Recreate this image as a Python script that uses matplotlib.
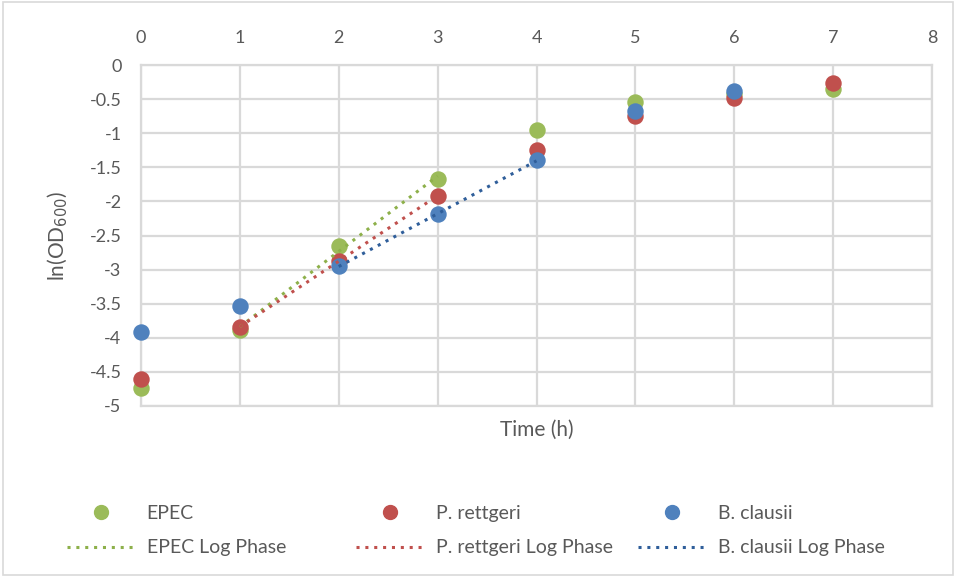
import numpy as np
import matplotlib.pyplot as plt
from matplotlib.lines import Line2D
from matplotlib.patches import Rectangle

plt.rcParams['font.family'] = ['Lato', 'DejaVu Sans']

# Data
time_h = [0, 1, 2, 3, 4, 5, 6, 7]
epec = [-4.73, -3.88, -2.65, -1.67, -0.95, -0.54, -0.42, -0.35]
rettgeri = [-4.61, -3.84, -2.87, -1.92, -1.25, -0.75, -0.48, -0.27]
clausii = [-3.92, -3.54, -2.95, -2.19, -1.40, -0.67, -0.38]

# log phase windows (index ranges used for the trend lines)
epec_log = (1, 3)
rettgeri_log = (1, 3)
clausii_log = (2, 4)

GREEN = "#9BBB59"
RED = "#C0504D"
BLUE = "#4F81BD"
TXT = "#595959"
GRID = "#D9D9D9"

fig = plt.figure(figsize=(9.56, 5.77), dpi=100)
ax = fig.add_axes([141 / 956, 1 - 406 / 577, (932 - 141) / 956, (406 - 65) / 577])

series = [("EPEC", epec, epec_log, GREEN, "#8DB04A"),
          ("P. rettgeri", rettgeri, rettgeri_log, RED, "#C0504D"),
          ("B. clausii", clausii, clausii_log, BLUE, "#2F5E9A")]

dots = (0, (1, 1.9))
legend_x = [67, 356, 638]
for (name, vals, (a, b), col, tcol), lx in zip(series, legend_x):
  x = np.array(time_h[:len(vals)])
  y = np.array(vals)
  ax.scatter(x, y, s=140, color=col, zorder=3, linewidths=0, clip_on=False)
  # linear trend over the log phase
  m, c = np.polyfit(x[a:b + 1], y[a:b + 1], 1)
  xs = np.array([x[a], x[b]])
  ax.plot(xs, m * xs + c, color=tcol, linestyle=dots, lw=2.2, zorder=4)
  hs = [Line2D([], [], marker="o", linestyle="none", color=col,
               markersize=10, label=name),
        Line2D([], [], linestyle=dots, lw=2.2, color=tcol,
               label=f"{name} Log Phase")]
  fig.legend(handles=hs, loc="upper left", frameon=False,
             bbox_to_anchor=(lx / 956, 1 - 505 / 577), borderpad=0,
             borderaxespad=0, fontsize=14, labelcolor=TXT, handlelength=3.5,
             handletextpad=0.6, labelspacing=0.9)

ax.set_xlim(0, 8)
ax.set_ylim(-5, 0)
ax.set_xticks(range(0, 9))
ax.set_yticks(np.arange(-5, 0.1, 0.5))
ax.set_yticklabels([f"{v:g}" for v in np.arange(-5, 0.1, 0.5)])
ax.xaxis.tick_top()
ax.tick_params(length=0, colors=TXT, labelsize=13)
ax.tick_params(axis="x", pad=14)
ax.tick_params(axis="y", pad=14)
ax.grid(True, color=GRID, lw=1.6)
ax.set_axisbelow(True)
for sp in ax.spines.values():
  sp.set_color(GRID)
  sp.set_linewidth(1.6)

ax.set_ylabel("ln(OD$_{600}$)", color=TXT, fontsize=15, labelpad=14)
fig.text(537 / 956, 1 - 430 / 577, "Time (h)", color=TXT, fontsize=15,
         ha="center", va="center")

fig.patches.append(Rectangle((0.003, 0.003), 0.994, 0.994, transform=fig.transFigure,
                             fill=False, edgecolor=GRID, lw=1.2))

fig.savefig("out.png", dpi=100)
